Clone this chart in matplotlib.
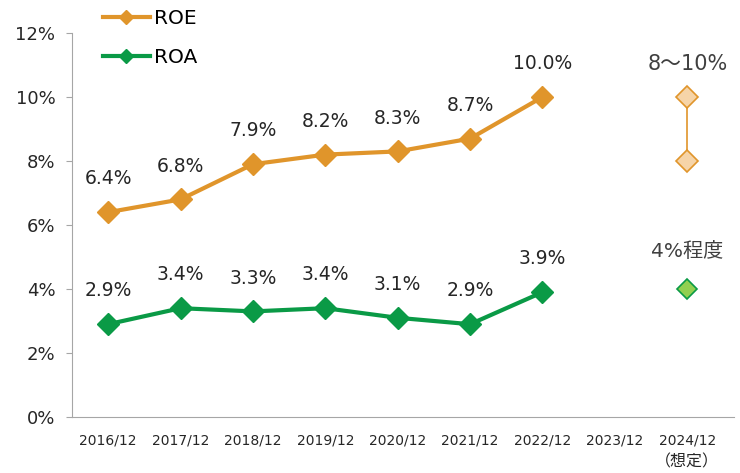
import matplotlib.pyplot as plt
import numpy as np

plt.rcParams['font.family'] = ['DejaVu Sans', 'Noto Sans CJK JP']

years = ['2016/12', '2017/12', '2018/12', '2019/12', '2020/12',
         '2021/12', '2022/12', '2023/12', '2024/12']
roe = [6.4, 6.8, 7.9, 8.2, 8.3, 8.7, 10.0]
roa = [2.9, 3.4, 3.3, 3.4, 3.1, 2.9, 3.9]
roe_target = [8, 10]
roa_target = [4]
roe_target_label = '8〜10%'
roa_target_label = '4%程度'
forecast_note = '（想定）'

orange = '#E0952B'
green = '#0A9A46'
text_col = '#262626'

fig = plt.figure(figsize=(7.4, 4.73), dpi=100)
ax = fig.add_axes([0.0973, 0.1184, 0.895, 0.8118])

x = np.arange(len(roe))
ax.plot(x, roe, color=orange, lw=3, marker='D', ms=11.5, label='ROE')
ax.plot(x, roa, color=green, lw=3, marker='D', ms=11.5, label='ROA')

for xi, v in zip(x, roe):
    ax.annotate(f'{v:.1f}%', (xi, v), xytext=(0, 24), textcoords='offset points',
                ha='center', va='center', fontsize=13.5, color=text_col)
for xi, v in zip(x, roa):
    ax.annotate(f'{v:.1f}%', (xi, v), xytext=(0, 24), textcoords='offset points',
                ha='center', va='center', fontsize=13.5, color=text_col)

# 2024 targets
tx = len(years) - 1
ax.plot([tx] * len(roe_target), roe_target, color=orange, lw=1.2, marker='D', ms=11,
        mfc='#F6D4A8', mec=orange, mew=1.2)
ax.plot([tx] * len(roa_target), roa_target, ls='none', marker='D', ms=10,
        mfc='#92D050', mec=green, mew=1.2)
ax.annotate(roe_target_label, (tx, max(roe_target)), xytext=(0, 24), textcoords='offset points',
            ha='center', va='center', fontsize=15, color='#404040')
ax.annotate(roa_target_label, (tx, roa_target[0]), xytext=(0, 27), textcoords='offset points',
            ha='center', va='center', fontsize=14.5, color='#404040')
ax.annotate(forecast_note, (tx, 0), xytext=(0, -32.5), textcoords='offset points',
            ha='center', va='center', fontsize=11.5, color=text_col)

ax.set_xlim(-0.5, 8.65)
ax.set_ylim(0, 12)
ax.set_xticks(range(len(years)))
ax.set_xticklabels(years, fontsize=10, color=text_col, family='DejaVu Sans')
ax.set_yticks(range(0, 13, 2))
ax.set_yticklabels([f'{v}%' for v in range(0, 13, 2)], fontsize=13, color=text_col)
ax.tick_params(axis='x', length=0, pad=12)
ax.tick_params(axis='y', length=4, color='#A6A6A6', pad=8)
for s in ['top', 'right']:
    ax.spines[s].set_visible(False)
for s in ['left', 'bottom']:
    ax.spines[s].set_color('#A6A6A6')

leg = ax.legend(loc='upper left', bbox_to_anchor=(0.115, 1.02), bbox_transform=fig.transFigure,
                frameon=False, fontsize=14.5, labelspacing=1.0, handlelength=2.3,
                handletextpad=0.2, markerscale=0.6)

fig.savefig('out.png', dpi=100)
